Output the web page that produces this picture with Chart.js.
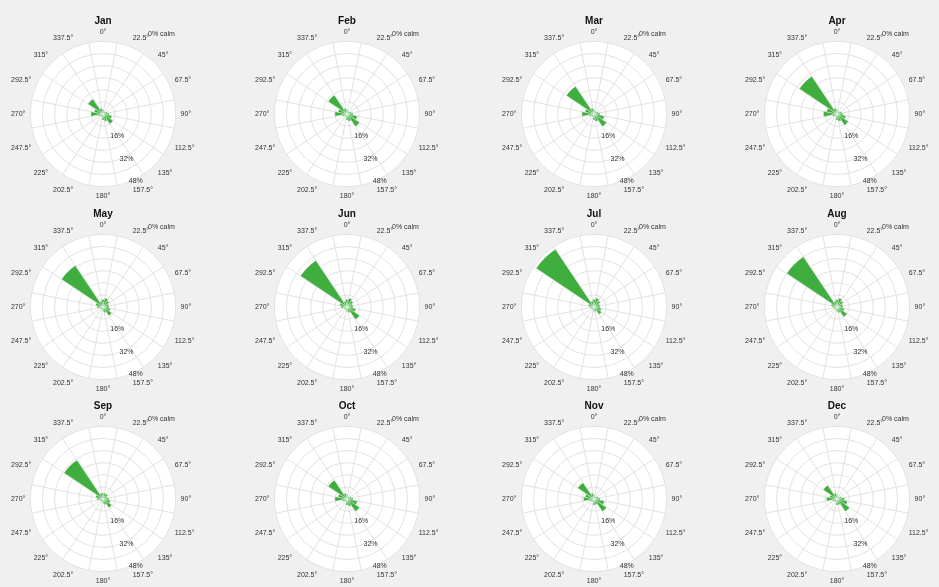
<!DOCTYPE html>
<html>
<head>
<meta charset="utf-8">
<script src="https://cdn.jsdelivr.net/npm/chart.js@4/dist/chart.umd.min.js"></script>
<style>
    html, body { margin: 0; padding: 0; background: #f0f0f0; }
    #grid { position: relative; width: 939px; height: 587px; overflow: hidden; background: #f0f0f0; }
    #grid canvas { position: absolute; }
</style>
</head>
<body>
<div id="grid"></div>
<script>
// --- data ---
const months = ["Jan", "Feb", "Mar", "Apr", "May", "Jun", "Jul", "Aug", "Sep", "Oct", "Nov", "Dec"];
const directionLabels = ["0°", "22.5°", "45°", "67.5°", "90°", "112.5°", "135°", "157.5°",
    "180°", "202.5°", "225°", "247.5°", "270°", "292.5°", "315°", "337.5°"];
const radialTickLabels = [16, 32, 48];
const calmLabel = "0% calm";

// frequency (%) per direction, N -> NNW clockwise
const freqJan = [3, 2, 2, 3, 4, 6, 8, 5, 4, 2, 2, 3, 8, 6, 12, 4];
const freqFeb = [3, 2, 2, 3, 4, 7, 10, 5, 4, 2, 2, 3, 8, 6, 15, 4];
const freqMar = [3, 2, 2, 3, 4, 7, 10, 5, 4, 2, 2, 3, 8, 6, 22, 4];
const freqApr = [3, 2, 2, 3, 4, 6, 9, 5, 4, 2, 2, 3, 9, 7, 30, 4];
const freqMay = [5, 6, 5, 4, 4, 5, 7, 4, 3, 2, 2, 2, 4, 5, 33, 4];
const freqJun = [5, 6, 5, 4, 4, 6, 10, 4, 3, 2, 2, 2, 4, 5, 37, 4];
const freqJul = [5, 6, 5, 4, 4, 5, 6, 3, 3, 2, 2, 2, 3, 4, 46, 4];
const freqAug = [5, 6, 5, 4, 4, 5, 8, 4, 3, 2, 2, 2, 3, 4, 40, 4];
const freqSep = [4, 4, 4, 3, 4, 5, 7, 4, 3, 2, 2, 2, 4, 5, 31, 4];
const freqOct = [3, 2, 2, 3, 4, 7, 10, 5, 4, 2, 2, 3, 8, 6, 15, 4];
const freqNov = [3, 2, 2, 3, 4, 7, 10, 4, 4, 2, 2, 3, 7, 6, 13, 4];
const freqDec = [3, 2, 2, 3, 5, 7, 10, 4, 4, 2, 2, 3, 7, 5, 11, 4];
const monthlyFreq = [freqJan, freqFeb, freqMar, freqApr, freqMay, freqJun,
    freqJul, freqAug, freqSep, freqOct, freqNov, freqDec];

// --- layout ---
const colCenters = [103, 347, 594, 837];
const rowCenters = [114, 307, 499];
const canvasW = 240;
const canvasH = 188;
const fontFamily = "'Liberation Sans', Arial, sans-serif";

// percent labels along the 157.5° bearing + the calm note
const roseLabels = {
    id: "roseLabels",
    afterDraw(chart) {
        const scale = chart.scales.r;
        const ctx = chart.ctx;
        const bearing = 157.5 * Math.PI / 180;
        ctx.save();
        ctx.font = "7px " + fontFamily;
        ctx.fillStyle = "#333";
        ctx.textAlign = "left";
        ctx.textBaseline = "middle";
        radialTickLabels.forEach((v) => {
            const d = scale.getDistanceFromCenterForValue(v);
            const x = scale.xCenter + d * Math.sin(bearing);
            const y = scale.yCenter - d * Math.cos(bearing);
            ctx.fillText(v + "%", x - 2, y);
        });
        ctx.fillText(calmLabel, scale.xCenter + 45, scale.yCenter - 80);
        ctx.restore();
    }
};

const grid = document.getElementById("grid");
months.forEach((month, i) => {
    const cx = colCenters[i % 4];
    const cy = rowCenters[Math.floor(i / 4)];
    const canvas = document.createElement("canvas");
    canvas.width = canvasW;
    canvas.height = canvasH;
    canvas.style.left = (cx - canvasW / 2) + "px";
    canvas.style.top = (cy - 101) + "px";
    grid.appendChild(canvas);

    new Chart(canvas.getContext("2d"), {
        type: "polarArea",
        data: {
            labels: directionLabels,
            datasets: [{
                data: monthlyFreq[i],
                backgroundColor: "#3fae3f",
                borderColor: "rgba(255,255,255,0.5)",
                borderWidth: 0.8
            }]
        },
        options: {
            responsive: false,
            animation: false,
            devicePixelRatio: 1,
            plugins: {
                legend: { display: false },
                tooltip: { enabled: false },
                title: {
                    display: true,
                    text: month,
                    color: "#111",
                    font: { size: 10, weight: "bold", family: fontFamily },
                    padding: { top: 2, bottom: 1 }
                }
            },
            scales: {
                r: {
                    min: 0,
                    max: 48,
                    startAngle: -11.25,
                    backgroundColor: "#ffffff",
                    ticks: { display: false, stepSize: 8 },
                    grid: { circular: true, color: "#e2e2e2", lineWidth: 1 },
                    angleLines: { display: true, color: "#e2e2e2", lineWidth: 1 },
                    pointLabels: {
                        display: true,
                        centerPointLabels: true,
                        padding: 5,
                        color: "#333",
                        font: { size: 7, family: fontFamily }
                    }
                }
            }
        },
        plugins: [roseLabels]
    });
});
</script>
</body>
</html>
